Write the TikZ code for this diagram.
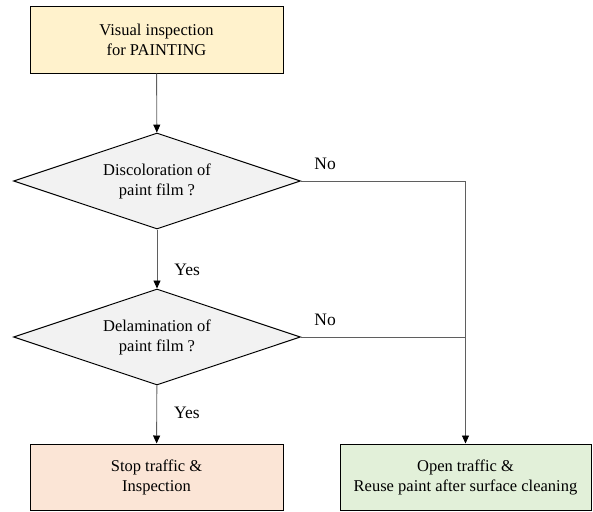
\documentclass[tikz,border=0pt]{standalone}
\usepackage{fontspec}
\setmainfont{Liberation Serif}
\usetikzlibrary{shapes.geometric,arrows.meta}

\definecolor{boxyellow}{HTML}{FFF2CC}
\definecolor{boxpeach}{HTML}{FBE5D6}
\definecolor{boxgreen}{HTML}{E2F0D9}
\definecolor{diagray}{HTML}{F2F2F2}
\definecolor{linegray}{HTML}{5F5F5F}

\begin{document}
\begin{tikzpicture}[x=1pt,y=-1pt,
  box/.style={draw, line width=1pt, minimum width=253pt, minimum height=66pt,
    align=center, font=\fontsize{16.5}{20}\selectfont},
  decision/.style={diamond, aspect=3, draw, line width=1pt, fill=diagray,
    minimum width=287pt, minimum height=96pt, inner sep=0pt,
    align=center, font=\fontsize{16.5}{20}\selectfont},
  line/.style={draw=linegray, line width=0.9pt},
  arr/.style={line, -{Triangle[length=8pt,width=7pt,color=black]}},
  lbl/.style={font=\fontsize{17.5}{21}\selectfont, inner sep=2pt}]
\useasboundingbox (0,0) rectangle (593,511);

% boxes and checks
\node[box, fill=boxyellow] (visual) at (156.5,40) {Visual inspection\\for PAINTING};
\node[decision] (discolor) at (157,181) {Discoloration of\\paint film ?};
\node[decision] (delam) at (157,337) {Delamination of\\paint film ?};
\node[box, fill=boxpeach] (stop) at (156.5,477) {Stop traffic \&\\Inspection};
\node[box, fill=boxgreen, minimum width=251pt] (open) at (465.5,477)
  {Open traffic \&\\Reuse paint after surface cleaning};

% yes branch
\draw[arr] (visual) -- (discolor);
\draw[arr] (discolor) -- node[lbl, anchor=west, pos=0.68, xshift=15pt] (yesa) {Yes} (delam);
\draw[arr] (delam) -- node[lbl, anchor=west, pos=0.47, xshift=15pt] (yesb) {Yes} (stop);

% no branch
\draw[arr] (discolor.east) node[lbl, anchor=south west, xshift=11pt, yshift=9pt] (noa) {No}
  -| (open.north);
\draw[line] (delam.east) node[lbl, anchor=south west, xshift=11pt, yshift=9pt] (nob) {No}
  -- (delam.east -| open.north);
\end{tikzpicture}
\end{document}
